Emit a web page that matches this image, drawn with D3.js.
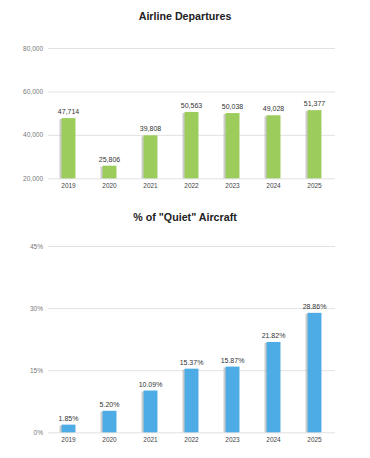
<!DOCTYPE html>
<html><head><meta charset="utf-8">
<script src="https://cdn.jsdelivr.net/npm/d3@7"></script>
<style>
body{margin:0;background:#fff;}
text{font-family:"Liberation Sans",Arial,sans-serif;}
</style></head>
<body><svg id="c" width="370" height="458"></svg>
<script>
const years = ["2019","2020","2021","2022","2023","2024","2025"];
const departures = [47714,25806,39808,50563,50038,49028,51377];
const depTicks = [20000,40000,60000,80000];
const quiet = [1.85,5.20,10.09,15.37,15.87,21.82,28.86];
const quietTicks = [0,15,30,45];

const svg = d3.select("#c");
const x = d3.scaleBand().domain(years).range([48,335]).paddingInner(0.66).paddingOuter(0.33);

function chart(cfg){
  const g = svg.append("g");
  g.append("text").attr("x",185).attr("y",cfg.titleY).attr("text-anchor","middle")
    .attr("font-size",10.7).attr("font-weight","bold").attr("fill","#222").text(cfg.title);
  const y = d3.scaleLinear().domain(cfg.domain).range(cfg.range);
  const axis = d3.axisLeft(y).tickValues(cfg.ticks).tickSize(-(335-48)).tickFormat(cfg.tickFmt);
  const ag = g.append("g").attr("transform","translate(48,0)").call(axis);
  ag.select(".domain").remove();
  ag.selectAll(".tick line").attr("stroke","#e2e2e2");
  ag.selectAll(".tick text").attr("x",-5).attr("fill","#777").attr("font-size",6.5).attr("font-family","Liberation Sans, Arial, sans-serif");
  const base = y(cfg.domain[0]);
  const bars = g.selectAll(".b").data(cfg.values).enter();
  bars.append("rect").attr("x",(d,i)=>x(years[i])-2).attr("y",d=>y(d)+1).attr("width",x.bandwidth())
    .attr("height",d=>base-y(d)-1).attr("fill","#aaa").attr("opacity",0.6);
  bars.append("rect").attr("x",(d,i)=>x(years[i])).attr("y",d=>y(d)).attr("width",x.bandwidth())
    .attr("height",d=>base-y(d)).attr("fill",cfg.color);
  bars.append("text").attr("x",(d,i)=>x(years[i])+x.bandwidth()/2).attr("y",d=>y(d)-4)
    .attr("text-anchor","middle").attr("font-size",7).attr("fill","#333").text(cfg.labelFmt);
  g.selectAll(".yl").data(years).enter().append("text")
    .attr("x",d=>x(d)+x.bandwidth()/2).attr("y",base+10).attr("text-anchor","middle")
    .attr("font-size",6.5).attr("fill","#444").text(d=>d);
}

chart({title:"Airline Departures", titleY:20, values:departures, domain:[20000,80000], range:[178.3,48],
  ticks:depTicks, tickFmt:d3.format(","), labelFmt:d3.format(","), color:"#9ccd5c"});
chart({title:"% of \"Quiet\" Aircraft", titleY:221, values:quiet, domain:[0,45], range:[432.3,246],
  ticks:quietTicks, tickFmt:d=>d+"%", labelFmt:d=>d.toFixed(2)+"%", color:"#4dabe6"});
</script></body></html>
